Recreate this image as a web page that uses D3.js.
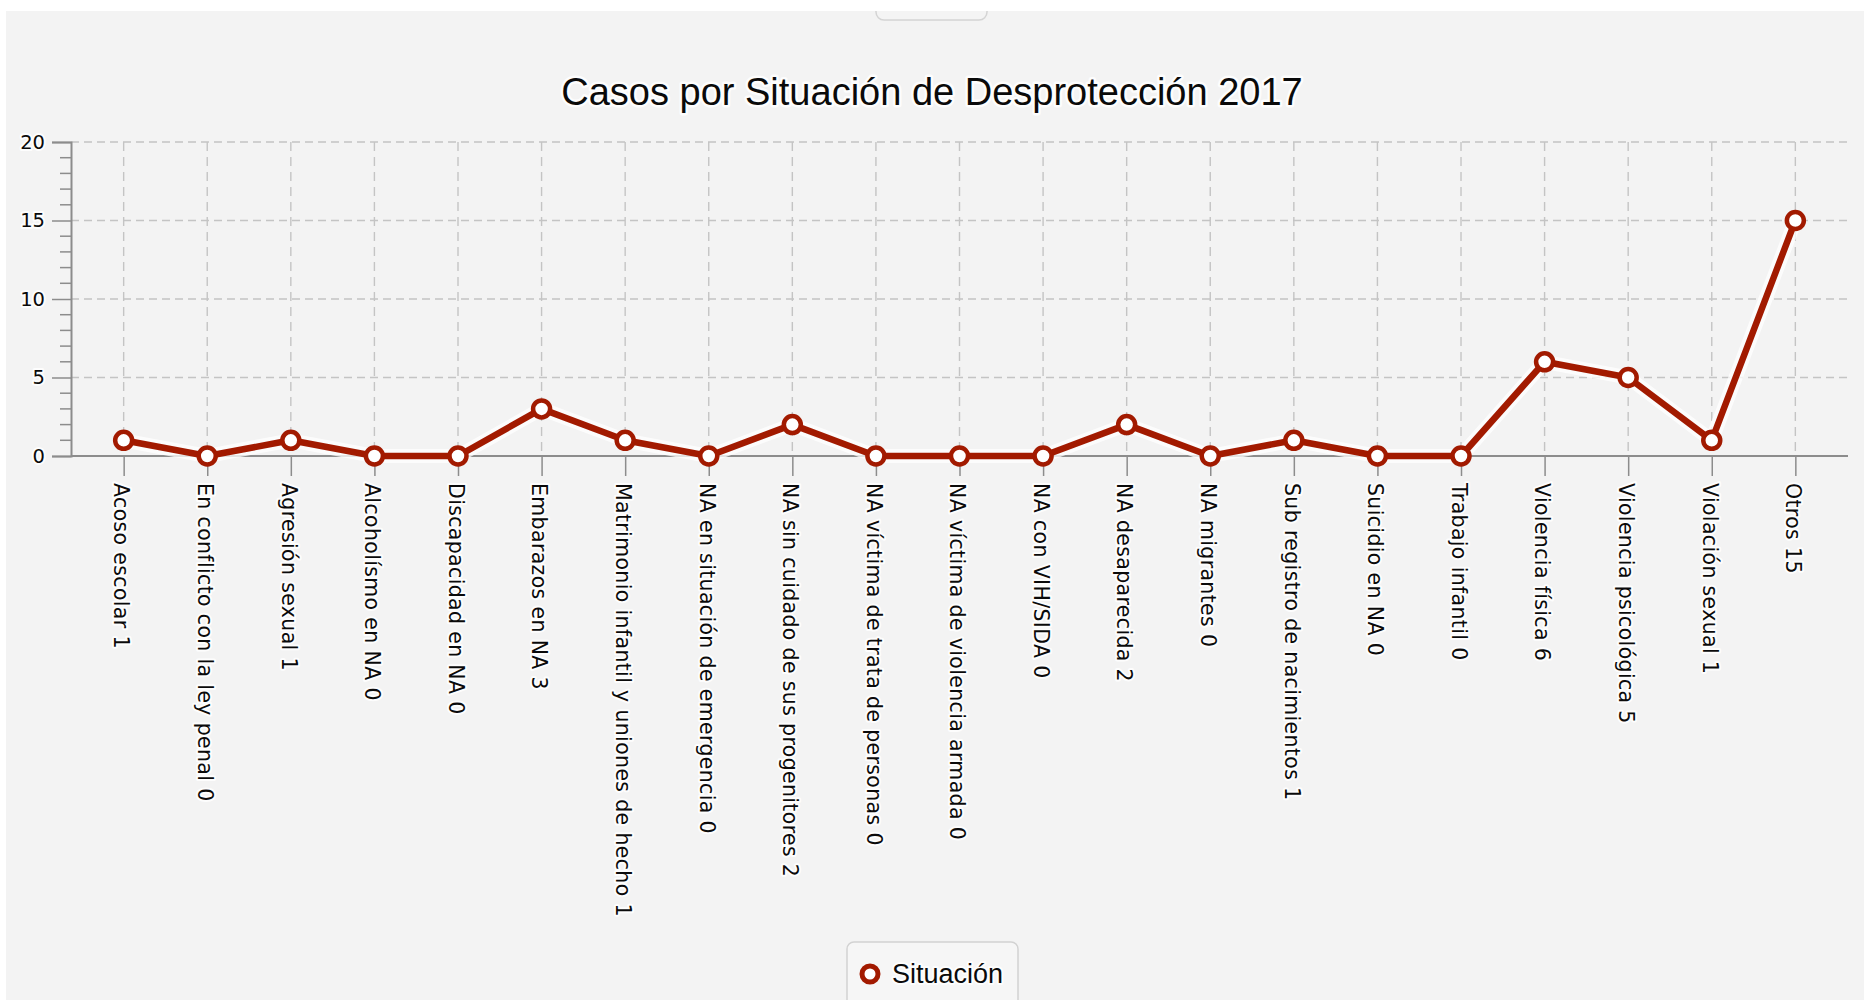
<!DOCTYPE html>
<html>
<head>
<meta charset="utf-8">
<script src="https://cdn.jsdelivr.net/npm/d3@7"></script>
<style>
  html, body { margin: 0; padding: 0; background: #fff; }
  svg { display: block; }
</style>
</head>
<body>
<div id="chart"></div>
<script>
// Casos por Situación de Desprotección 2017 — single line series "Situación"

const categories = [
  "Acoso escolar",
  "En conflicto con la ley penal",
  "Agresión sexual",
  "Alcoholísmo en NA",
  "Discapacidad en NA",
  "Embarazos en NA",
  "Matrimonio infantil y uniones de hecho",
  "NA en situación de emergencia",
  "NA sin cuidado de sus progenitores",
  "NA víctima de trata de personas",
  "NA víctima de violencia armada",
  "NA con VIH/SIDA",
  "NA desaparecida",
  "NA migrantes",
  "Sub registro de nacimientos",
  "Suicidio en NA",
  "Trabajo infantil",
  "Violencia física",
  "Violencia psicológica",
  "Violación sexual",
  "Otros"
];

const casos = [1, 0, 1, 0, 0, 3, 1, 0, 2, 0, 0, 0, 2, 0, 1, 0, 0, 6, 5, 1, 15];

const yTicks = [0, 5, 10, 15, 20];
const seriesName = "Situación";

const width = 1864, height = 1000;
const plot = { left: 71, right: 1848, top: 142, bottom: 456 };
const RED = "#a21a00";

const svg = d3.select("#chart").append("svg")
  .attr("width", width)
  .attr("height", height);

// background panel + white strips around it
svg.append("rect").attr("width", width).attr("height", height).attr("fill", "#fff");
svg.append("rect")
  .attr("x", 6).attr("y", 11)
  .attr("width", width - 6).attr("height", height - 11)
  .attr("fill", "#f3f3f3");

// little tab at top centre
svg.append("rect")
  .attr("x", 876).attr("y", -12)
  .attr("width", 111).attr("height", 32)
  .attr("rx", 8)
  .attr("fill", "#f4f4f4")
  .attr("stroke", "#d4d4d4")
  .attr("stroke-width", 1.5);
svg.append("rect").attr("width", width).attr("height", 11).attr("fill", "#fff");

// scales
const x = d3.scalePoint()
  .domain(categories)
  .range([plot.left, plot.right])
  .padding(0.63);

const y = d3.scaleLinear()
  .domain([0, 20])
  .range([plot.bottom, plot.top]);

// halo used for texts (the reference has a soft white glow)
function halo(sel, w) {
  sel.attr("stroke", "#fff")
    .attr("stroke-width", w)
    .attr("stroke-opacity", 0.85)
    .attr("stroke-linejoin", "round")
    .attr("paint-order", "stroke");
}

// TITLE
svg.append("text")
  .attr("x", 932)
  .attr("y", 105)
  .attr("text-anchor", "middle")
  .style("font-family", "'Liberation Sans', Arial, sans-serif")
  .style("font-size", "38px")
  .attr("fill", "#0a0a0a")
  .text("Casos por Situación de Desprotección 2017")
  .call(halo, 5);

// GRID
const grid = svg.append("g").attr("class", "grid");

grid.selectAll(".hgrid")
  .data(yTicks.filter(d => d > 0))
  .join("line")
  .attr("class", "hgrid")
  .attr("x1", plot.left).attr("x2", plot.right)
  .attr("y1", d => y(d)).attr("y2", d => y(d))
  .attr("stroke", "#c4c4c4")
  .attr("stroke-width", 1.4)
  .attr("stroke-dasharray", "8,5");

grid.selectAll(".vgrid")
  .data(categories)
  .join("line")
  .attr("class", "vgrid")
  .attr("x1", d => x(d)).attr("x2", d => x(d))
  .attr("y1", plot.top).attr("y2", plot.bottom)
  .attr("stroke", "#c4c4c4")
  .attr("stroke-width", 1.4)
  .attr("stroke-dasharray", "9,6");

// Y AXIS — minor ticks every unit, major every 5
const yMinor = d3.range(0, 21).filter(d => d % 5 !== 0);

svg.append("g")
  .attr("transform", `translate(${plot.left},0)`)
  .selectAll("line")
  .data(yMinor)
  .join("line")
  .attr("x1", -11).attr("x2", 0)
  .attr("y1", d => y(d)).attr("y2", d => y(d))
  .attr("stroke", "#8c8c8c")
  .attr("stroke-width", 1.5);

const yAxis = svg.append("g")
  .attr("transform", `translate(${plot.left},0)`)
  .call(d3.axisLeft(y).tickValues(yTicks).tickSize(19).tickPadding(7));

yAxis.select(".domain").attr("stroke", "#8c8c8c").attr("stroke-width", 2);
yAxis.selectAll(".tick line").attr("stroke", "#8c8c8c").attr("stroke-width", 1.5);
yAxis.selectAll(".tick text")
  .style("font-family", "'DejaVu Sans', Verdana, sans-serif")
  .style("font-size", "19.5px")
  .attr("fill", "#0a0a0a")
  .call(halo, 4);

// X AXIS — rotated labels "name value"
const xAxis = svg.append("g")
  .attr("transform", `translate(0,${plot.bottom})`)
  .call(d3.axisBottom(x).tickSize(20).tickSizeOuter(0).tickFormat(""));

xAxis.select(".domain")
  .attr("d", `M${plot.left},0H${plot.right}`)
  .attr("stroke", "#8c8c8c")
  .attr("stroke-width", 2);
xAxis.selectAll(".tick line").attr("stroke", "#8c8c8c").attr("stroke-width", 1.5);

svg.append("g")
  .selectAll("text")
  .data(categories)
  .join("text")
  .attr("transform", d => `translate(${x(d)},${plot.bottom + 27}) rotate(90)`)
  .attr("dy", "0.45em")
  .style("font-family", "'DejaVu Sans', Verdana, sans-serif")
  .style("font-size", "20.5px")
  .style("letter-spacing", "0.35px")
  .attr("fill", "#0a0a0a")
  .text((d, i) => `${d} ${casos[i]}`)
  .call(halo, 4);

// LINE + MARKERS
const line = d3.line()
  .x((d, i) => x(categories[i]))
  .y(d => y(d));

svg.append("path")
  .datum(casos)
  .attr("d", line)
  .attr("fill", "none")
  .attr("stroke", "#fff")
  .attr("stroke-opacity", 0.75)
  .attr("stroke-width", 14)
  .attr("stroke-linejoin", "round");

svg.append("path")
  .datum(casos)
  .attr("d", line)
  .attr("fill", "none")
  .attr("stroke", RED)
  .attr("stroke-width", 6.5)
  .attr("stroke-linejoin", "round");

svg.append("g")
  .selectAll("circle")
  .data(casos)
  .join("circle")
  .attr("cx", (d, i) => x(categories[i]))
  .attr("cy", d => y(d))
  .attr("r", 8.5)
  .attr("fill", "#fff")
  .attr("stroke", RED)
  .attr("stroke-width", 4.5);

// LEGEND
const legend = svg.append("g").attr("class", "legend");

legend.append("rect")
  .attr("x", 847).attr("y", 942)
  .attr("width", 171).attr("height", 80)
  .attr("rx", 7)
  .attr("fill", "#f6f6f6")
  .attr("stroke", "#d2d2d2")
  .attr("stroke-width", 1.5);

legend.append("circle")
  .attr("cx", 870).attr("cy", 974)
  .attr("r", 8)
  .attr("fill", "#fff")
  .attr("stroke", RED)
  .attr("stroke-width", 5);

legend.append("text")
  .attr("x", 892).attr("y", 983)
  .style("font-family", "'Liberation Sans', Arial, sans-serif")
  .style("font-size", "27px")
  .attr("fill", "#0a0a0a")
  .text(seriesName)
  .call(halo, 4);
</script>
</body>
</html>
